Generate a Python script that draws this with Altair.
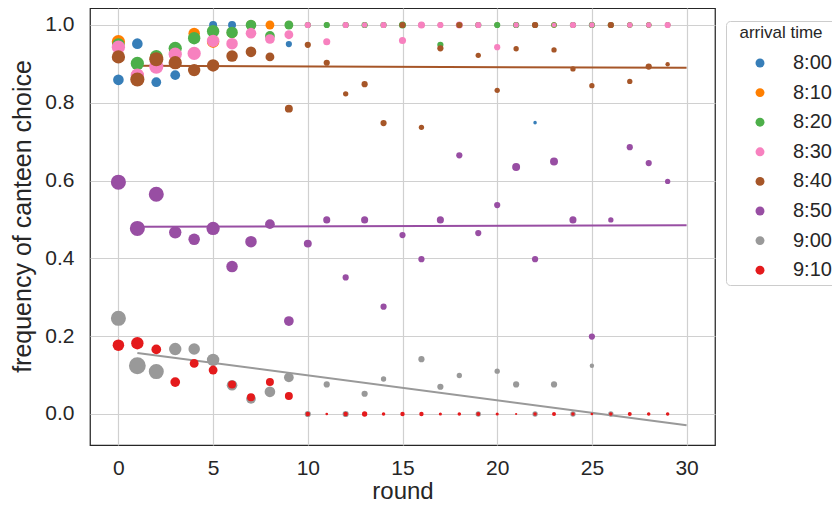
import altair as alt
import pandas as pd

rounds = list(range(30))
arrival_times = ["8:00", "8:10", "8:20", "8:30", "8:40", "8:50", "9:00", "9:10"]
palette = ["#377eb8", "#ff7f00", "#4daf4a", "#f781bf", "#a65628", "#984ea3", "#999999", "#e41a1c"]

freq_800 = [0.859, 0.952, 0.853, 0.871, 0.970, 1.0, 1.0, 1.0, 1.0, 0.951,
            1.0, 1.0, 1.0, 1.0, 1.0, 1.0, 1.0, 1.0, 1.0, 1.0,
            1.0, 1.0, 0.749, 1.0, 1.0, 1.0, 1.0, 1.0, 1.0, 1.0]
size_800 = [12, 12, 11, 11, 11, 9, 9, 8, 8, 7,
            6, 6, 6, 6, 6, 6, 6, 6, 6, 6,
            6, 6, 4, 6, 6, 6, 6, 6, 6, 6]

freq_810 = [0.957, 0.871, 0.918, 0.930, 0.978, 0.957, 0.980, 1.0, 1.0, 1.0,
            1.0, 1.0, 1.0, 1.0, 1.0, 1.0, 1.0, 1.0, 1.0, 1.0,
            1.0, 1.0, 1.0, 1.0, 1.0, 1.0, 1.0, 1.0, 1.0, 1.0]
size_810 = [15, 14, 14, 13, 13, 14, 12, 11, 10, 9,
            6, 6, 6, 6, 6, 6, 6, 6, 6, 6,
            6, 6, 6, 6, 6, 6, 6, 6, 6, 6]

freq_820 = [0.950, 0.901, 0.920, 0.940, 0.966, 0.984, 0.981, 1.0, 0.972, 1.0,
            1.0, 1.0, 1.0, 1.0, 1.0, 1.0, 1.0, 0.949, 1.0, 1.0,
            1.0, 1.0, 1.0, 1.0, 1.0, 1.0, 1.0, 1.0, 1.0, 1.0]
size_820 = [14, 15, 14, 15, 14, 14, 13, 12, 11, 10,
            7, 7, 7, 7, 7, 8, 7, 7, 7, 7,
            7, 7, 7, 6, 7, 7, 7, 6, 6, 6]

freq_830 = [0.943, 0.871, 0.893, 0.925, 0.927, 0.959, 0.952, 0.979, 0.964, 0.975,
            1.0, 0.957, 1.0, 1.0, 1.0, 0.960, 1.0, 1.0, 1.0, 1.0,
            0.943, 1.0, 1.0, 1.0, 1.0, 1.0, 1.0, 1.0, 1.0, 1.0]
size_830 = [15, 15, 16, 15, 15, 14, 13, 12, 11, 10,
            7, 8, 7, 6, 7, 8, 8, 7, 8, 7,
            7, 6, 6, 5, 7, 6, 6, 6, 6, 7]

freq_840 = [0.918, 0.860, 0.912, 0.903, 0.884, 0.896, 0.920, 0.931, 0.918, 0.785,
            0.949, 0.903, 0.823, 0.848, 0.748, 1.0, 0.737, 0.940, 1.0, 0.922,
            0.832, 0.939, 1.0, 0.936, 0.887, 0.844, 1.0, 0.855, 0.893, 0.899]
size_840 = [15, 16, 16, 15, 14, 14, 13, 12, 10, 9,
            7, 7, 6, 7, 7, 7, 6, 7, 7, 6,
            6, 6, 7, 6, 6, 6, 7, 6, 7, 5]

freq_850 = [0.596, 0.477, 0.565, 0.467, 0.449, 0.477, 0.379, 0.443, 0.488, 0.239,
            0.438, 0.499, 0.351, 0.499, 0.276, 0.460, 0.398, 0.499, 0.665, 0.465,
            0.537, 0.635, 0.398, 0.649, 0.499, 0.199, 0.499, 0.686, 0.645, 0.598]
size_850 = [17, 17, 17, 14, 13, 15, 13, 13, 11, 11,
            9, 8, 7, 8, 7, 7, 7, 8, 7, 7,
            7, 9, 7, 9, 8, 7, 6, 7, 7, 6]

freq_900 = [0.246, 0.124, 0.109, 0.167, 0.167, 0.139, 0.074, 0.039, 0.057, 0.094,
            0.0, 0.076, 0.0, 0.052, 0.090, 0.0, 0.141, 0.070, 0.099, 0.0,
            0.110, 0.076, 0.0, 0.076, 0.0, 0.124, 0.0, 0.0, 0.0, 0.0]
size_900 = [17, 19, 17, 14, 13, 14, 12, 11, 12, 11,
            7, 7, 7, 7, 6, 3, 7, 7, 6, 6,
            6, 7, 6, 7, 6, 5, 6, 3, 3, 3]

freq_910 = [0.177, 0.182, 0.166, 0.082, 0.130, 0.113, 0.076, 0.043, 0.082, 0.046,
            0.0, 0.0, 0.0, 0.0, 0.0, 0.0, 0.0, 0.0, 0.0, 0.0,
            0.0, 0.0, 0.0, 0.0, 0.0, 0.0, 0.0, 0.0, 0.0, 0.0]
size_910 = [13, 14, 11, 11, 10, 10, 9, 9, 9, 9,
            5, 3, 5, 6, 4, 5, 5, 3.5, 4, 4.5,
            3.5, 2.5, 4, 4.5, 4, 3, 4, 4.5, 4, 4]

# fitted trend lines (start / end values)
fit_times = ["8:40", "8:50", "9:00"]
fit_round_start = [1, 1, 1]
fit_round_end = [30, 30, 30]
fit_start = [0.895, 0.4815, 0.157]
fit_end = [0.890, 0.485, -0.029]

FONT = "Liberation Sans"
TXT = "#262626"

all_freq = [freq_800, freq_810, freq_820, freq_830, freq_840, freq_850, freq_900, freq_910]
all_size = [size_800, size_810, size_820, size_830, size_840, size_850, size_900, size_910]

rows = []
for i, t in enumerate(arrival_times):
    for r, f, s in zip(rounds, all_freq[i], all_size[i]):
        rows.append({"arrival": t, "order": i, "round": r, "freq": f, "n": s})
pts = pd.DataFrame(rows)

lrows = []
for t, r0, r1, y0, y1 in zip(fit_times, fit_round_start, fit_round_end, fit_start, fit_end):
    lrows.append({"arrival": t, "round": r0, "freq": y0})
    lrows.append({"arrival": t, "round": r1, "freq": y1})
lines = pd.DataFrame(lrows)

xscale = alt.Scale(domain=[-1.5, 31.5], nice=False, zero=False)
yscale = alt.Scale(domain=[-0.0797, 1.0437], nice=False, zero=False)
cscale = alt.Scale(domain=arrival_times, range=palette)

xaxis = alt.Axis(values=[0, 5, 10, 15, 20, 25, 30], title="round", grid=True,
                 gridColor="#d0d0d0", gridWidth=1.2, domain=False, ticks=False,
                 labelPadding=12, labelFontSize=21, labelFont=FONT, labelColor=TXT,
                 titleFont=FONT, titleFontSize=24, titleFontWeight="normal",
                 titleColor=TXT, titleY=46, titleBaseline="middle")
yaxis = alt.Axis(values=[0, 0.2, 0.4, 0.6, 0.8, 1.0], format=".1f",
                 title="frequency of canteen choice", grid=True,
                 gridColor="#d0d0d0", gridWidth=1.2, domain=False, ticks=False,
                 labelPadding=16, labelFontSize=21, labelFont=FONT, labelColor=TXT,
                 titleFont=FONT, titleFontSize=25, titleFontWeight="normal",
                 titleColor=TXT, titleX=-68, titleY=208, titleBaseline="middle")

legend = alt.Legend(
    title="arrival time", orient="none", legendX=636, legendY=13,
    padding=4, titleFont=FONT, titleFontSize=17, titleFontWeight="normal",
    titleColor=TXT, titleAnchor="middle", titlePadding=11,
    labelFont=FONT, labelFontSize=20, labelColor=TXT,
    symbolType="circle", symbolSize=80, symbolOpacity=1,
    symbolStrokeWidth=0, symbolOffset=20, labelOffset=23,
    rowPadding=9.6, strokeColor="#cccccc", fillColor="white",
    cornerRadius=4,
)

line_layer = alt.Chart(lines).mark_line(strokeWidth=2).encode(
    x=alt.X("round:Q", scale=xscale, axis=xaxis),
    y=alt.Y("freq:Q", scale=yscale, axis=yaxis),
    color=alt.Color("arrival:N", scale=cscale, legend=legend),
    detail="arrival:N",
)

point_layer = alt.Chart(pts).mark_circle(opacity=1).encode(
    x=alt.X("round:Q", scale=xscale, axis=xaxis),
    y=alt.Y("freq:Q", scale=yscale, axis=yaxis),
    color=alt.Color("arrival:N", scale=cscale, legend=legend),
    size=alt.Size("n:Q", scale=alt.Scale(type="pow", exponent=2, domain=[0, 18],
                                        range=[0, 254]), legend=None),
    order=alt.Order("order:Q"),
)

chart = alt.layer(line_layer, point_layer).properties(
    width=625, height=437,
    background="white",
    autosize=alt.AutoSizeParams(type="none"),
    padding={"left": 82, "top": 0, "right": 117, "bottom": 58},
).configure_view(stroke=TXT, strokeWidth=1.25)

chart.save("out.html", embed_options={"renderer": "svg", "actions": False})
